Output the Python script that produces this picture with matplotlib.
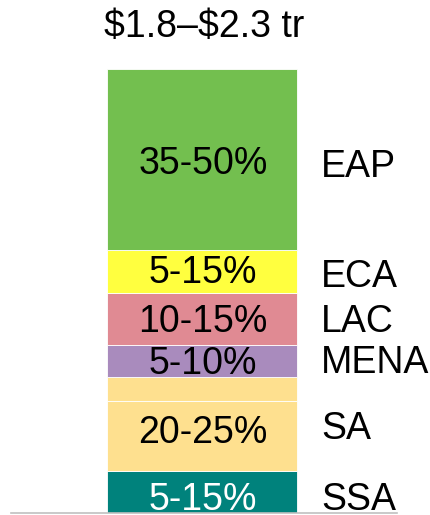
#!/usr/bin/env python3

import matplotlib
matplotlib.use('Agg')

from matplotlib.pyplot import subplots

DPI = 100
FIGSIZE = (431 / DPI, 515 / DPI)
FONT = 'Liberation Sans'
FONTSIZE = 27
CAP = 0.716 * FONTSIZE * DPI / 72   # cap height in pixels

# Stacked from the bottom up; the SA block is drawn as two pieces
REGIONS = ['SSA', 'SA', '', 'MENA', 'LAC', 'ECA', 'EAP']
SHARES = [9.5, 15.8, 5.4, 7.2, 11.7, 9.7, 40.8]
RANGES = ['5-15%', '20-25%', '', '5-10%', '10-15%', '5-15%', '35-50%']
COLOURS = ['#00827c', '#fee08f', '#fee08f', '#a98bbd',
           '#e08a93', '#ffff3f', '#73bf4f']
TEXT_COLOURS = ['white', 'black', 'black', 'black', 'black', 'black', 'black']
TOTAL = '$1.8–$2.3 tr'

# nudges (pixels, downwards) from the segment middle to the text middle
PCT_NUDGE = [5, -6, 0, -0.5, -0.5, -1.5, 1.5]
NAME_NUDGE = [5, -10, 0, -1, 0, 2, 4.5]


def label(ax, x, y, text, down, ha, colour):
    ax.annotate(text, xy=(x, y), xytext=(0, -(down + CAP / 2)),
                textcoords='offset pixels', ha=ha, va='baseline',
                fontsize=FONTSIZE, family=FONT, color=colour)


def main():
    fig, ax = subplots(figsize=FIGSIZE, dpi=DPI)
    bottom_px, top_px = 513, 69
    ax.set_position([0, (515 - bottom_px) / 515, 1, (bottom_px - top_px) / 515])
    ax.set_xlim(0, 431)
    ax.set_ylim(0, sum(SHARES))
    ax.axis('off')

    base = 0
    for share, colour, pct, name, tcol, pn, nn in zip(
            SHARES, COLOURS, RANGES, REGIONS, TEXT_COLOURS, PCT_NUDGE, NAME_NUDGE):
        ax.bar(202, share, width=190, bottom=base, color=colour,
               edgecolor='white', linewidth=0.6)
        mid = base + share / 2
        if pct:
            label(ax, 203, mid, pct, pn, 'center', tcol)
        if name:
            label(ax, 321, mid, name, nn, 'left', 'black')
        base += share

    ax.axhline(0, xmin=11 / 431, xmax=397 / 431, color='#c0c0c0',
               linewidth=1.2, clip_on=False)

    fig.text(204.5 / 431, 1 - (23.5 + CAP / 2) / 515, TOTAL, ha='center',
             va='baseline', fontsize=FONTSIZE, family=FONT, parse_math=False)

    fig.savefig('out.png', dpi=DPI)


if __name__ == '__main__':
    main()
